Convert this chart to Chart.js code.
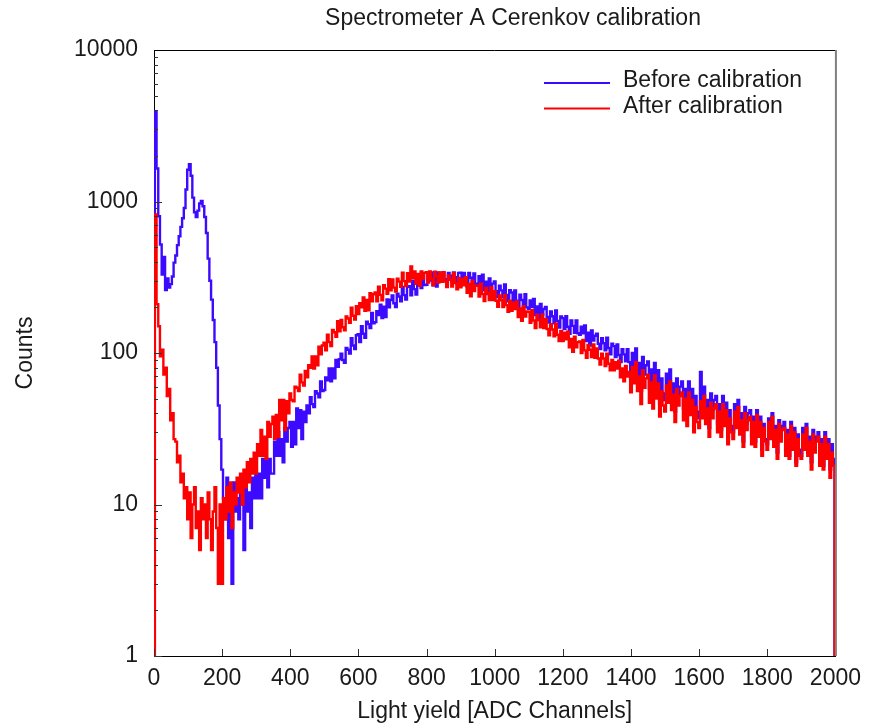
<!DOCTYPE html>
<html>
<head>
<meta charset="utf-8">
<script src="https://cdn.jsdelivr.net/npm/chart.js@4.4.1/dist/chart.umd.min.js"></script>
<style>
  html, body { margin: 0; padding: 0; background: #fff; }
</style>
</head>
<body>
<canvas id="calibChart" width="870" height="726"></canvas>
<script>
// histogram contents, one value per 5-channel bin (channel 0 .. 2000)
const BIN = 5;

const beforeCounts = [
  1, 3900, 1650, 800, 520, 330, 430, 260, 310, 270,
  285, 320, 395, 440, 515, 590, 680, 775, 905, 1200,
  1620, 1760, 1480, 1060, 850, 790, 870, 970, 1010, 930,
  790, 620, 420, 300, 225, 165, 118, 80, 45, 27,
  17, 11, 8, 15, 6, 12, 3, 14, 9, 11,
  8, 13, 10, 5, 14, 9, 12, 7, 15, 11,
  16, 11, 16, 11, 20, 15, 20, 13, 20, 16,
  16, 26, 21, 30, 21, 27, 19, 32, 26, 32,
  35, 24, 35, 25, 43, 32, 42, 27, 41, 35,
  45, 40, 51, 46, 44, 56, 54, 51, 65, 56,
  57, 69, 66, 79, 65, 79, 68, 90, 81, 91,
  99, 90, 86, 108, 105, 99, 125, 112, 106, 131,
  133, 118, 150, 134, 126, 161, 155, 146, 184, 157,
  160, 189, 178, 208, 170, 202, 173, 226, 200, 224,
  240, 213, 201, 246, 236, 219, 273, 241, 225, 274,
  276, 240, 300, 264, 243, 305, 290, 268, 333, 281,
  282, 326, 301, 340, 280, 322, 275, 340, 303, 334,
  340, 307, 285, 338, 324, 296, 340, 316, 289, 338,
  339, 289, 338, 305, 275, 338, 314, 285, 335, 287,
  282, 321, 291, 329, 259, 296, 245, 310, 265, 287,
  297, 256, 234, 278, 259, 233, 283, 242, 219, 260,
  251, 213, 259, 221, 198, 243, 224, 202, 244, 200,
  196, 222, 201, 227, 178, 203, 168, 211, 180, 195,
  201, 173, 159, 188, 175, 157, 191, 163, 147, 174,
  170, 144, 175, 149, 134, 164, 151, 136, 164, 135,
  132, 149, 135, 152, 120, 136, 112, 141, 121, 130,
  134, 115, 106, 125, 116, 104, 126, 108, 98, 115,
  111, 94, 114, 97, 87, 106, 98, 88, 106, 87,
  67, 100, 77, 107, 69, 86, 56, 94, 72, 83,
  88, 58, 78, 53, 86, 61, 77, 46, 68, 54,
  49, 73, 56, 78, 50, 63, 41, 68, 52, 60,
  65, 43, 58, 39, 65, 46, 58, 35, 52, 41,
  37, 75, 43, 60, 39, 49, 32, 54, 42, 49,
  52, 34, 46, 31, 52, 37, 47, 28, 42, 33,
  30, 46, 35, 49, 32, 40, 26, 44, 34, 40,
  42, 28, 38, 26, 42, 30, 38, 23, 34, 27,
  25, 37, 29, 40, 26, 33, 22, 36, 28, 33,
  35, 23, 31, 21, 35, 25, 32, 19, 29, 23,
  21, 32, 24, 34, 22, 28, 19, 31, 24, 28,
  30, 20, 27, 18, 30, 22, 27, 17, 25, 20,
  1
];

const afterCounts = [
  1, 820, 210, 150, 95, 105, 72, 80, 52, 58,
  36, 40, 27, 26, 19, 21, 14, 16, 11, 13,
  8, 12, 6, 10, 13, 7, 9, 5, 11, 8,
  10, 6, 12, 8, 5, 9, 13, 7, 3, 10,
  3, 11, 8, 13, 9, 14, 7, 12, 10, 15,
  12, 16, 10, 17, 13, 19, 14, 20, 16, 22,
  16, 25, 21, 31, 21, 28, 20, 35, 28, 34,
  38, 27, 39, 28, 49, 36, 49, 31, 48, 40,
  54, 49, 48, 60, 59, 56, 72, 64, 61, 76,
  69, 83, 80, 95, 79, 95, 83, 110, 98, 112,
  117, 104, 132, 118, 111, 142, 137, 128, 162, 139,
  165, 148, 141, 174, 169, 158, 199, 176, 166, 204,
  181, 213, 200, 233, 190, 224, 191, 248, 219, 244,
  251, 219, 274, 242, 223, 280, 266, 246, 307, 259,
  306, 270, 254, 309, 296, 273, 339, 298, 277, 336,
  296, 372, 313, 345, 286, 332, 278, 345, 308, 338,
  341, 292, 345, 309, 280, 344, 321, 292, 340, 295,
  341, 296, 272, 325, 304, 275, 336, 289, 263, 313,
  271, 308, 280, 316, 250, 286, 237, 300, 256, 278,
  278, 236, 287, 245, 220, 269, 249, 224, 272, 224,
  256, 221, 202, 240, 223, 201, 242, 207, 187, 221,
  190, 215, 195, 219, 173, 197, 163, 204, 174, 188,
  187, 158, 192, 164, 146, 179, 165, 148, 179, 146,
  167, 144, 131, 155, 143, 129, 156, 132, 120, 140,
  120, 136, 123, 138, 109, 124, 102, 128, 109, 118,
  119, 100, 122, 104, 93, 113, 105, 94, 114, 93,
  107, 92, 84, 99, 92, 82, 99, 85, 77, 90,
  77, 87, 79, 89, 69, 79, 65, 82, 70, 75,
  55, 81, 63, 87, 56, 70, 46, 77, 59, 68,
  72, 47, 64, 43, 71, 50, 63, 38, 56, 45,
  41, 61, 47, 65, 42, 53, 35, 58, 45, 52,
  55, 36, 50, 33, 55, 39, 49, 30, 44, 35,
  32, 48, 37, 52, 34, 43, 28, 47, 37, 43,
  46, 30, 41, 28, 46, 33, 42, 25, 37, 30,
  27, 41, 32, 44, 29, 36, 24, 40, 31, 36,
  38, 25, 35, 24, 39, 28, 35, 21, 32, 26,
  23, 35, 27, 38, 24, 31, 20, 34, 26, 31,
  32, 21, 29, 20, 33, 23, 30, 18, 27, 21,
  20, 29, 23, 32, 21, 26, 17, 29, 22, 26,
  28, 18, 25, 17, 28, 20, 25, 15, 22, 18,
  1
];

const xTickValues = [0, 200, 400, 600, 800, 1000, 1200, 1400, 1600, 1800, 2000];
const yTickValues = [1, 10, 100, 1000, 10000];

const seriesNames = ['Before calibration', 'After calibration'];
const seriesColors = ['#3c0aff', '#ff0000'];

const FONT = "'Liberation Sans', Arial, sans-serif";
const TEXT_COLOR = '#1a1a1a';

function toPoints(counts) {
  return counts.map((v, i) => ({ x: i * BIN, y: v }));
}

// title, legend, inward ticks and the top/right frame
const gnuplotLook = {
  id: 'gnuplotLook',
  afterDatasetsDraw(chart) {
    const { ctx, chartArea: a, scales } = chart;
    ctx.save();
    ctx.strokeStyle = '#333';
    ctx.lineWidth = 1;
    ctx.beginPath();
    yTickValues.forEach((dec, k) => {
      const y = Math.round(scales.y.getPixelForValue(dec)) + 0.5;
      ctx.moveTo(a.left, y);
      ctx.lineTo(a.left + 8, y);
      if (k < yTickValues.length - 1) {
        for (let m = 2; m <= 9; m++) {
          const ym = Math.round(scales.y.getPixelForValue(dec * m)) + 0.5;
          ctx.moveTo(a.left, ym);
          ctx.lineTo(a.left + 4, ym);
        }
      }
    });
    xTickValues.forEach(v => {
      const x = Math.round(scales.x.getPixelForValue(v)) + 0.5;
      ctx.moveTo(x, a.bottom);
      ctx.lineTo(x, a.bottom - 7);
    });
    ctx.stroke();

    ctx.strokeStyle = '#000';
    ctx.beginPath();
    ctx.moveTo(a.left, a.top + 0.5);
    ctx.lineTo(a.right, a.top + 0.5);
    ctx.stroke();
    ctx.strokeStyle = '#808080';
    ctx.lineWidth = 2;
    ctx.beginPath();
    ctx.moveTo(a.right + 0.5, a.top);
    ctx.lineTo(a.right + 0.5, a.bottom);
    ctx.stroke();
    ctx.restore();
  },
  afterDraw(chart) {
    const { ctx } = chart;
    ctx.save();
    ctx.fillStyle = TEXT_COLOR;
    ctx.font = '23px ' + FONT;
    ctx.textAlign = 'center';
    ctx.textBaseline = 'middle';
    ctx.fillText('Spectrometer A Cerenkov calibration', 513, 19);

    ctx.textAlign = 'left';
    seriesNames.forEach((name, i) => {
      const y = 83 + i * 25.5;
      ctx.strokeStyle = seriesColors[i];
      ctx.lineWidth = 2;
      ctx.beginPath();
      ctx.moveTo(544, y);
      ctx.lineTo(610, y);
      ctx.stroke();
      ctx.fillStyle = TEXT_COLOR;
      ctx.fillText(name, 623, y - 2);
    });
    ctx.restore();
  }
};

new Chart(document.getElementById('calibChart'), {
  type: 'line',
  data: {
    datasets: [
      {
        label: seriesNames[0],
        data: toPoints(beforeCounts),
        borderColor: seriesColors[0],
        borderWidth: 2.4,
        stepped: 'middle',
        pointRadius: 0,
        fill: false,
        order: 1 // drawn underneath
      },
      {
        label: seriesNames[1],
        data: toPoints(afterCounts),
        borderColor: seriesColors[1],
        borderWidth: 2.4,
        stepped: 'middle',
        pointRadius: 0,
        fill: false,
        order: 0
      }
    ]
  },
  options: {
    responsive: false,
    animation: false,
    devicePixelRatio: 1,
    layout: { padding: { top: 50, right: 33, left: 0, bottom: 0 } },
    plugins: {
      legend: { display: false },
      title: { display: false },
      tooltip: { enabled: false }
    },
    scales: {
      x: {
        type: 'linear',
        min: 0,
        max: 2000,
        grid: { display: false, drawTicks: false },
        border: { display: true, color: '#000', width: 1 },
        afterBuildTicks: s => { s.ticks = xTickValues.map(v => ({ value: v })); },
        afterFit: s => { s.height = 70; },
        ticks: {
          padding: 9,
          maxRotation: 0,
          autoSkip: false,
          color: TEXT_COLOR,
          font: { family: FONT, size: 23 },
          callback: v => String(v)
        },
        title: {
          display: true,
          text: 'Light yield [ADC Channels]',
          color: TEXT_COLOR,
          font: { family: FONT, size: 23 },
          padding: { top: 0, bottom: 1 }
        }
      },
      y: {
        type: 'logarithmic',
        min: 1,
        max: 10000,
        grid: { display: false, drawTicks: false },
        border: { display: true, color: '#000', width: 1 },
        afterBuildTicks: s => { s.ticks = yTickValues.map(v => ({ value: v })); },
        afterFit: s => { s.width = 154; },
        ticks: {
          padding: 16,
          autoSkip: false,
          color: TEXT_COLOR,
          font: { family: FONT, size: 23 },
          callback: v => String(v)
        },
        title: {
          display: true,
          text: 'Counts',
          color: TEXT_COLOR,
          font: { family: FONT, size: 23 },
          padding: { top: 12, bottom: 0 }
        }
      }
    }
  },
  plugins: [gnuplotLook]
});
</script>
</body>
</html>
